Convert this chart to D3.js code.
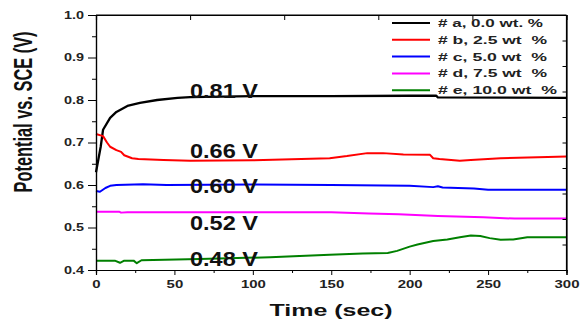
<!DOCTYPE html>
<html><head><meta charset="utf-8">
<script src="https://cdn.jsdelivr.net/npm/d3@7"></script>
<style>body{margin:0;background:#fff}svg{display:block}text{font-family:"Liberation Sans",Arial,sans-serif;font-weight:bold}</style>
</head><body><svg id="c" width="580" height="320"></svg>
<script>
const seriesNames = ["# a, 0.0 wt. %", "# b, 2.5 wt  %", "# c, 5.0 wt  %", "# d, 7.5 wt  %", "# e, 10.0 wt  %"];
const seriesColors = ["#000000", "#ff0000", "#0000ff", "#ff00ff", "#008000"];
const timeA = [0, 1.5, 3, 4.5, 9, 13, 20, 28, 39, 52, 60, 80, 100, 150, 200, 217, 218, 300];
const valA  = [0.63, 0.66, 0.69, 0.73, 0.758, 0.772, 0.786, 0.793, 0.800, 0.805, 0.807, 0.808, 0.809, 0.809, 0.810, 0.810, 0.806, 0.805];
const timeB = [0, 4.5, 7, 9, 13, 16, 18, 23, 27, 43, 60, 100, 149, 160, 173, 183, 196, 213, 215, 219, 232, 239, 258, 288, 300];
const valB  = [0.72, 0.715, 0.70, 0.69, 0.682, 0.678, 0.67, 0.663, 0.661, 0.659, 0.657, 0.658, 0.663, 0.668, 0.675, 0.675, 0.672, 0.671, 0.663, 0.661, 0.657, 0.659, 0.663, 0.666, 0.667];
const timeC = [0, 2.5, 6, 9, 13, 30, 45, 100, 150, 200, 215, 218, 221, 241, 250, 300];
const valC  = [0.586, 0.584, 0.593, 0.598, 0.600, 0.602, 0.600, 0.601, 0.600, 0.598, 0.595, 0.597, 0.594, 0.592, 0.589, 0.589];
const timeD = [0, 15, 16, 20, 100, 150, 174, 193, 218, 247, 267, 300];
const valD  = [0.537, 0.537, 0.535, 0.536, 0.536, 0.536, 0.533, 0.531, 0.527, 0.524, 0.521, 0.521];
const timeE = [0, 12, 15.3, 18, 24, 26, 29, 66, 111, 149, 170, 186, 192, 200, 205, 215, 224, 232, 239, 245, 251, 258, 266, 275, 300];
const valE  = [0.422, 0.422, 0.417, 0.422, 0.422, 0.416, 0.423, 0.426, 0.430, 0.436, 0.439, 0.440, 0.445, 0.455, 0.460, 0.468, 0.472, 0.477, 0.481, 0.480, 0.475, 0.471, 0.472, 0.477, 0.477];
const annotations = ["0.81 V", "0.66 V", "0.60 V", "0.52 V", "0.48 V"];
const xTicks = [0, 50, 100, 150, 200, 250, 300];
const yTicks = [0.4, 0.5, 0.6, 0.7, 0.8, 0.9, 1.0];

const times = [timeA, timeB, timeC, timeD, timeE];
const vals = [valA, valB, valC, valD, valE];

const svg = d3.select("#c");
const L = 96, R = 566.5, T = 15, B = 270;
const x = d3.scaleLinear().domain([0, 300]).range([L, R]);
const y = d3.scaleLinear().domain([0.4, 1.0]).range([B, T]);

const line = d3.line().x(d => x(d[0])).y(d => y(d[1]));
times.forEach((t, i) => {
  const pts = t.map((tt, j) => [tt, vals[i][j]]);
  svg.append("path").attr("d", line(pts)).attr("fill", "none")
    .attr("stroke", seriesColors[i]).attr("stroke-width", i === 0 ? 2.3 : 2).attr("stroke-linejoin", "round");
});

const fmtY = d3.format(".1f");
const gL = svg.append("g").attr("transform", `translate(${L},0)`)
  .call(d3.axisLeft(y).tickValues(yTicks).tickFormat(fmtY).tickSize(8).tickPadding(4));
svg.append("g").attr("transform", `translate(${L},0)`)
  .call(d3.axisLeft(y).tickValues(d3.range(0.45, 1.0, 0.1)).tickFormat("").tickSize(4));
const gB = svg.append("g").attr("transform", `translate(0,${B})`)
  .call(d3.axisBottom(x).tickValues(xTicks).tickSize(5).tickPadding(4));
svg.append("g").attr("transform", `translate(0,${B})`)
  .call(d3.axisBottom(x).tickValues(d3.range(25, 300, 50)).tickFormat("").tickSize(3));
svg.append("g").attr("transform", `translate(0,${T})`)
  .call(d3.axisBottom(x).tickValues([60, 120, 180, 240]).tickFormat("").tickSize(5));
svg.append("g").attr("transform", `translate(${R},0)`)
  .call(d3.axisLeft(y).tickValues(d3.range(0, 11).map(k => 0.4 + 0.06 * k)).tickFormat("").tickSize(4));
svg.selectAll(".domain").attr("stroke", "#000").attr("stroke-width", 1.2);
svg.selectAll(".tick line").attr("stroke", "#000");
gL.selectAll(".tick text").attr("font-size", 10).attr("font-weight", "bold").attr("fill", "#222")
  .attr("font-family", "Liberation Sans, Arial, sans-serif").attr("textLength", 20).attr("lengthAdjust", "spacingAndGlyphs");
gB.selectAll(".tick text").attr("font-size", 10).attr("font-weight", "bold").attr("fill", "#222")
  .attr("font-family", "Liberation Sans, Arial, sans-serif").attr("dy", "0.9em")
  .attr("textLength", d => String(d).length * 8.3).attr("lengthAdjust", "spacingAndGlyphs");
svg.append("line").attr("x1", L).attr("x2", R).attr("y1", T).attr("y2", T).attr("stroke", "#000").attr("stroke-width", 1.2);
svg.append("line").attr("x1", R).attr("x2", R).attr("y1", T).attr("y2", B).attr("stroke", "#000").attr("stroke-width", 1.2);

svg.append("text").attr("x", 331).attr("y", 316).attr("text-anchor", "middle")
  .attr("font-size", 17).attr("textLength", 123).attr("lengthAdjust", "spacingAndGlyphs").attr("fill", "#111").text("Time (sec)");
svg.append("text").attr("transform", "translate(32,112) rotate(-90) scale(1,1.4)").attr("text-anchor", "middle")
  .attr("font-size", 18).attr("textLength", 161).attr("lengthAdjust", "spacingAndGlyphs").attr("fill", "#111")
  .text("Potential vs. SCE (V)");

const annBase = [98, 157.5, 193, 230, 266];
annotations.forEach((a, i) => {
  svg.append("text").attr("x", 190).attr("y", annBase[i]).attr("font-size", 20)
    .attr("textLength", 68).attr("lengthAdjust", "spacingAndGlyphs").attr("fill", "#111").text(a);
});

const legW = [105, 109, 109, 109, 119];
seriesNames.forEach((n, i) => {
  const ly = 23 + i * 16.8;
  svg.append("line").attr("x1", 392).attr("x2", 430).attr("y1", ly).attr("y2", ly)
    .attr("stroke", seriesColors[i]).attr("stroke-width", 2);
  svg.append("text").attr("x", 438).attr("y", ly + 4).attr("font-size", 10.5)
    .attr("textLength", legW[i]).attr("lengthAdjust", "spacingAndGlyphs").attr("fill", "#222")
    .style("white-space", "pre").text(n);
});
</script></body></html>
